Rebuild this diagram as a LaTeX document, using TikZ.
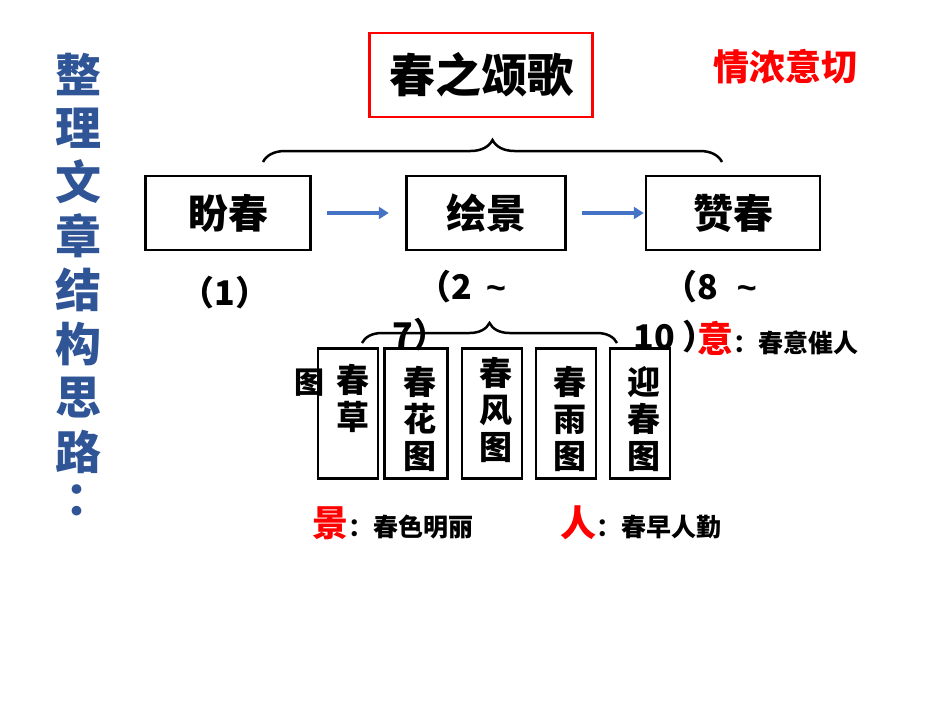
\documentclass[tikz,border=0pt]{standalone}
\usepackage{fontspec}
\setmainfont{Noto Sans CJK SC}[BoldFont={* Black}]
\newfontfamily\lat{Liberation Sans}[BoldFont={* Bold}]
\usetikzlibrary{decorations.pathreplacing,arrows.meta}
\definecolor{tblue}{HTML}{2F5597}
\definecolor{tred}{HTML}{FF0000}
\definecolor{ablue}{HTML}{4472C4}
\newcommand{\tld}{{\lat\bfseries\,\textasciitilde}}
\tikzset{
 bigbox/.style={draw,line width=2.5pt,minimum width=#1,minimum height=74pt,font=\bfseries\fontsize{40}{40}\selectfont},
 vbox/.style={draw,line width=2.5pt,minimum width=60pt,minimum height=130pt,anchor=north},
 vtxt/.style={font=\bfseries\fontsize{33}{37}\selectfont,align=center,anchor=north,inner sep=0pt},
 lbl/.style={font=\bfseries\fontsize{34}{34}\selectfont},
 br/.style={decorate,decoration={brace,amplitude=22pt},line width=2.5pt},
 arr/.style={-{Triangle[length=10pt,width=12pt]},line width=4pt,ablue}
}
\begin{document}
\begin{tikzpicture}[x=1pt,y=-1pt]
\useasboundingbox (0,0) rectangle (950,713);
\foreach \c [count=\i] in {整,理,文,章,结,构,思,路}
  \node[tblue,font=\bfseries\fontsize{46}{46}\selectfont] (t\i) at (78,20+54*\i) {\c};
\node[tblue,font=\bfseries\fontsize{46}{46}\selectfont] (t9) at (88,500) {：};
\node[draw=tred,line width=2.5pt,minimum width=223pt,minimum height=84pt,font=\bfseries\fontsize{46}{46}\selectfont] (title) at (481,75) {春之颂歌};
\node[tred,font=\bfseries\fontsize{36}{36}\selectfont] (qn) at (785,67) {情浓意切};
\coordinate (b1) at (263,162); \coordinate (b2) at (722,162);
\draw[br] (b1) -- (b2);
\node[bigbox=165pt] (pc) at (228,213) {盼春};
\node[bigbox=159pt] (hj) at (486,213) {绘景};
\node[bigbox=174pt] (zc) at (733,213) {赞春};
\draw[arr] (pc.east)++(15,0) coordinate (a1) -- ++(62,0) coordinate (a2);
\draw[arr] (hj.east)++(15,0) coordinate (a3) -- ++(62,0) coordinate (a4);
\node[lbl] (p1) at (225,293) {（1）};
\node[lbl] (p2) at (462,287) {（2 \tld};
\node[lbl] (p3) at (420,335) {7）};
\node[lbl] (p4) at (710,287) {（8 \,\tld};
\node[lbl] (p5) at (675,337) {10 ）};
\coordinate (c1) at (362,343); \coordinate (c2) at (617,343);
\draw[br,decoration={amplitude=20pt}] (c1) -- (c2);
\node[vbox] (v1) at (348,347) {}; \node[vtxt] at (353,364) {春\\草};
\node[vbox,minimum width=63pt] (v2) at (416,347) {}; \node[vtxt] at (420,366) {春\\花\\图};
\node[vbox] (v3) at (492,347) {}; \node[vtxt] at (496,357) {春\\风\\图};
\node[vbox] (v4) at (566,347) {}; \node[vtxt] at (570,366) {春\\雨\\图};
\node[vbox] (v5) at (640,347) {}; \node[vtxt] at (644,366) {迎\\春\\图};
\node[font=\bfseries\fontsize{30}{30}\selectfont] (tu) at (309,383) {图};
\node[anchor=west,inner sep=0pt] (yi) at (697,338) {\bfseries\fontsize{36}{36}\selectfont\color{tred}意\color{black}\fontsize{25}{25}\selectfont：春意催人};
\node[anchor=west,inner sep=0pt] (jing) at (312,523) {\bfseries\fontsize{36}{36}\selectfont\color{tred}景\color{black}\fontsize{25}{25}\selectfont：春色明丽};
\node[anchor=west,inner sep=0pt] (ren) at (560,523) {\bfseries\fontsize{36}{36}\selectfont\color{tred}人\color{black}\fontsize{25}{25}\selectfont：春早人勤};
\end{tikzpicture}
\end{document}
